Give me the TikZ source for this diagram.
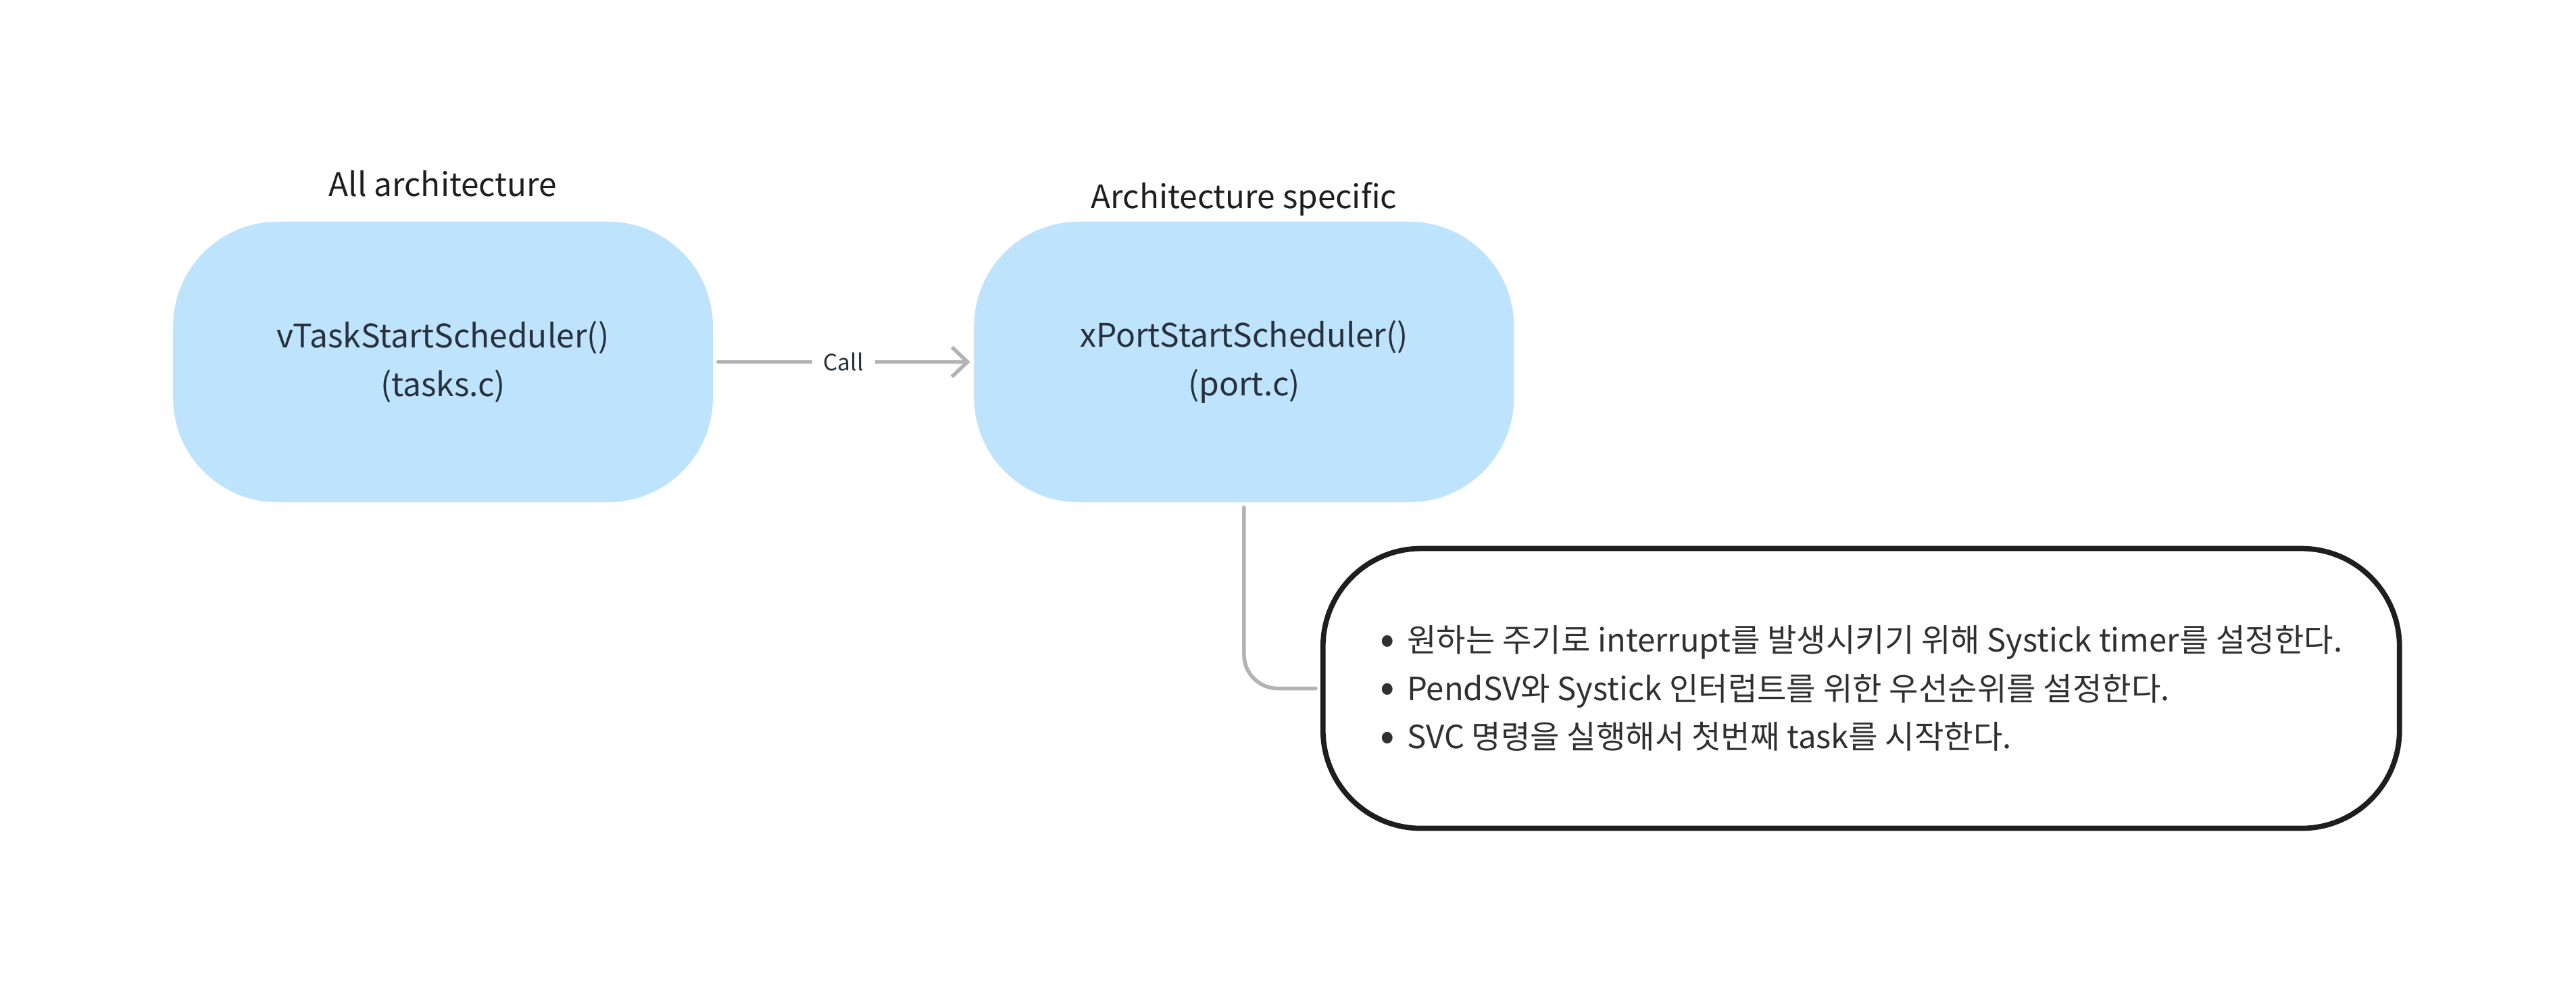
\documentclass[tikz,border=0pt]{standalone}
\usepackage{fontspec}
\setmainfont{Noto Sans CJK KR}
\usetikzlibrary{positioning,arrows.meta}

\definecolor{boxblue}{HTML}{BEE3FD}
\definecolor{fntext}{HTML}{27303B}
\definecolor{linegray}{HTML}{B3B3B3}
\definecolor{notedark}{HTML}{1E1E1E}
\definecolor{notetext}{HTML}{303030}

\newcommand{\notedot}{\makebox[0.4cm][l]{\raisebox{-0.06em}{\fontsize{18}{18}\selectfont\textbullet}}}

\begin{document}
\begin{tikzpicture}[node distance=3.85cm,
    fn node/.style={rectangle,fill=boxblue,rounded corners=1.55cm,minimum width=7.99cm,minimum height=4.15cm,align=center,text=fntext,font=\fontsize{13.65}{20.6}\selectfont},
    head label/.style={inner sep=0pt,text depth=0pt,text=notedark,font=\fontsize{13.6}{16}\selectfont},
    note node/.style={rectangle,draw=notedark,line width=2.2pt,rounded corners=1.45cm,minimum width=15.93cm,minimum height=4.14cm,align=left,text=notetext,font=\fontsize{13.45}{20.3}\selectfont},
    gray line/.style={draw=linegray,line width=1.6pt,line cap=round}]

  \useasboundingbox (0,0) rectangle (38.12,-14.84);

  \node[fn node] (vtask) at (6.555,-5.355) {vTaskStartScheduler()\\(tasks.c)};
  \node[fn node] (xport) [right=of vtask] {xPortStartScheduler()\\(port.c)};

  \node[head label] (alltitle) [above=0.36cm of vtask] {All architecture};
  \node[head label] (porttitle) [above=0.18cm of xport] {Architecture specific};

  \node[note node] (note) [below right=0.64cm and 1.13cm of xport.south]
    {\notedot 원하는 주기로 interrupt를 발생시키기 위해 Systick timer를 설정한다.\\
     \notedot PendSV와 Systick 인터럽트를 위한 우선순위를 설정한다.\\
     \notedot SVC 명령을 실행해서 첫번째 task를 시작한다.};

  % call from the generic scheduler into the port
  \path (vtask) edge[gray line,-{Straight Barb[length=2.3mm,width=4.4mm]},shorten <=0.07cm,shorten >=0.05cm]
      node[fill=white,inner xsep=0.17cm,text=fntext,font=\fontsize{9.5}{12}\selectfont] {Call} (xport);

  \draw[gray line,rounded corners=0.5cm,shorten <=0.07cm,shorten >=0.07cm] (xport.south) |- (note.west);

\end{tikzpicture}
\end{document}
